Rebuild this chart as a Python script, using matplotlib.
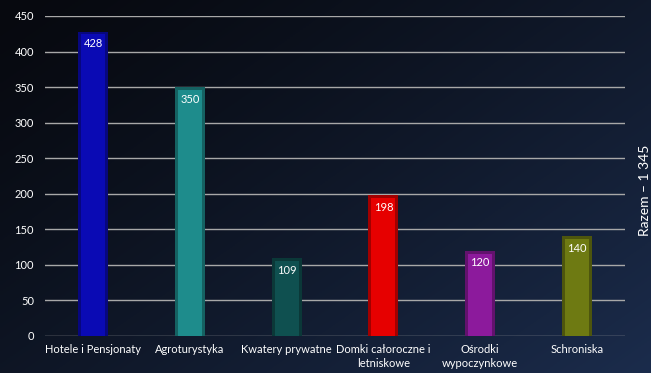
import numpy as np
from matplotlib import pyplot as plt
import matplotlib.colors as mcolors

categories = ['Hotele i Pensjonaty', 'Agroturystyka', 'Kwatery prywatne',
              'Domki całoroczne i\nletniskowe', 'Ośrodki\nwypoczynkowe', 'Schroniska']
values = [428, 350, 109, 198, 120, 140]
colors = ['#0a0ab4', '#1e8c8c', '#0f5050', '#e60000', '#8c1a9c', '#6e7a12']
yticks = [0, 50, 100, 150, 200, 250, 300, 350, 400, 450]
total_label = 'Razem – 1 345'

plt.rcParams['font.family'] = ['Lato', 'DejaVu Sans']

fig = plt.figure(figsize=(6.51, 3.73), dpi=100)

# background gradient, dark at top left, bluer at bottom right
bg = fig.add_axes([0, 0, 1, 1])
yy, xx = np.mgrid[0:1:200j, 0:1:200j]
t = 0.55 * xx + 0.45 * yy
c0 = np.array(mcolors.to_rgb('#07090f'))
c1 = np.array(mcolors.to_rgb('#1b2c4c'))
img = c0 + (c1 - c0) * t[..., None] ** 1.3
bg.imshow(img, aspect='auto', extent=[0, 1, 0, 1])
bg.axis('off')

ax = fig.add_axes([45 / 651, (373 - 336) / 373, 580 / 651, 320 / 373])
ax.patch.set_alpha(0)
x = np.arange(len(values))
ax.set_xlim(-0.5, len(values) - 0.5)
ax.set_ylim(0, 450)
ax.set_yticks(yticks)
ax.yaxis.grid(True, color='#a8a8a8', lw=1)
ax.set_axisbelow(True)
for s in ax.spines.values():
    s.set_visible(False)
ax.tick_params(length=0, colors='white', labelsize=8)
ax.tick_params(axis='y', pad=8)
ax.tick_params(axis='x', pad=6)
ax.set_xticks(x)
ax.set_xticklabels(categories, color='white', fontsize=8, linespacing=1.25)

w = 0.31
for xi, v, c in zip(x, values, colors):
    dark = np.array(mcolors.to_rgb(c)) * 0.7
    ax.bar(xi, v, width=w, color=dark, lw=0, zorder=3)
    ax.bar(xi, v - 4, width=w * 0.8, color=c, zorder=4)
    ax.text(xi, v - 9, str(v), ha='center', va='top', color='white',
            fontsize=8, zorder=5)

fig.text(645 / 651, 1 - 190 / 373, total_label, rotation=90, ha='center', va='center',
         color='white', fontsize=10)

fig.savefig('out.png', dpi=100)
